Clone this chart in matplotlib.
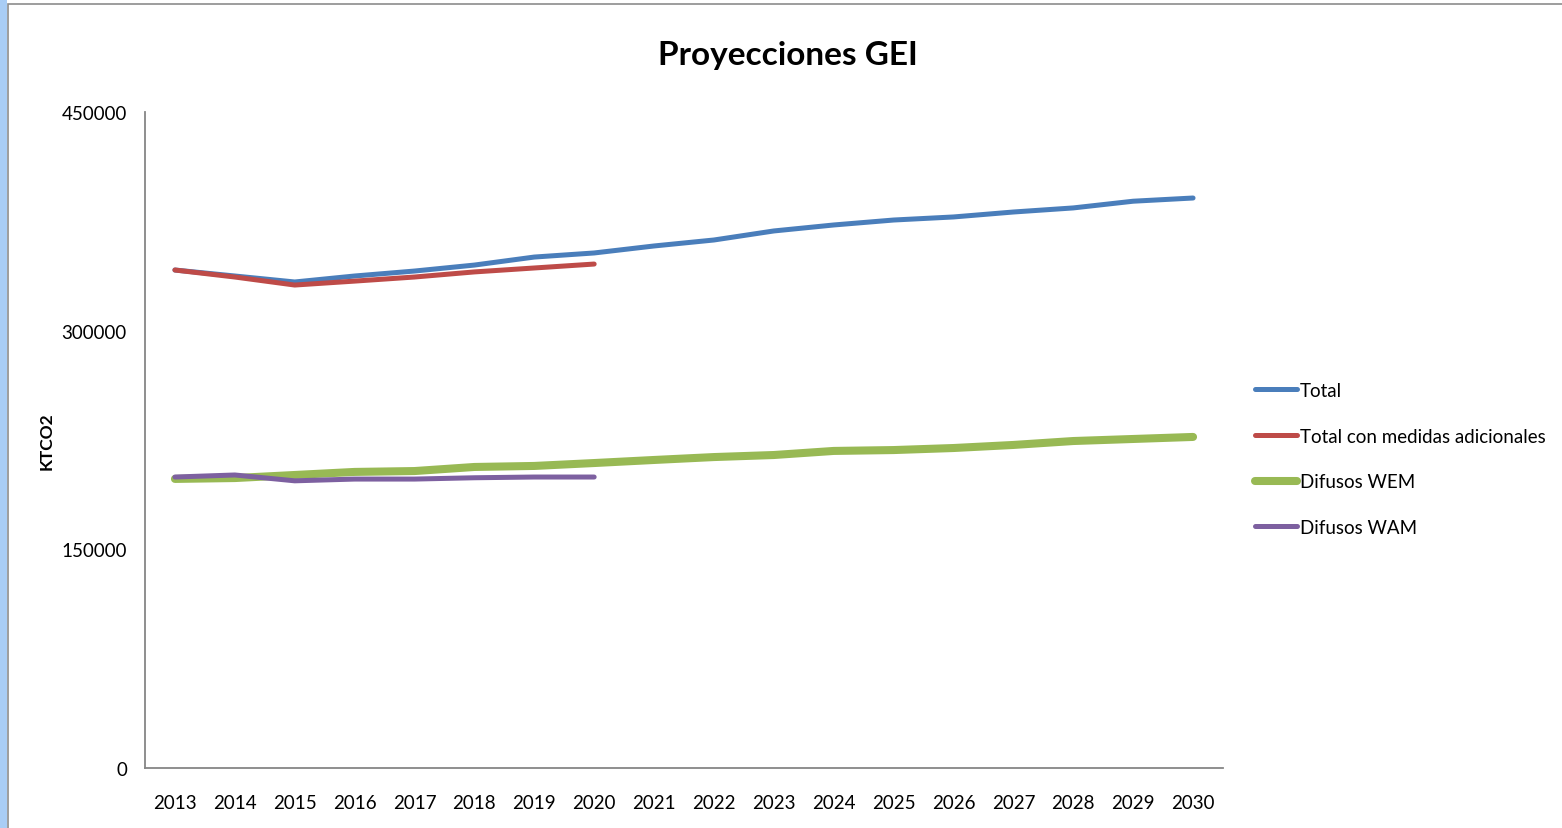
import matplotlib
matplotlib.use("Agg")
import matplotlib.pyplot as plt
from matplotlib.patches import Rectangle

plt.rcParams['font.family'] = ['Lato', 'DejaVu Sans']

years = list(range(2013, 2031))
total = [341600, 337500, 333400, 337500, 340900, 345000, 350500, 353300, 358100,
         362200, 368400, 372500, 375900, 378000, 381400, 384200, 388800, 391000]
total_wam = [341600, 336800, 331300, 334000, 336800, 340300, 343000, 345700]
difusos_wem = [198300, 198900, 201000, 203100, 203700, 206500, 207200, 209200, 211300,
               213300, 214700, 217500, 218100, 219500, 221600, 224300, 225700, 227100]
difusos_wam = [199600, 201000, 197000, 198200, 198200, 199100, 199600, 199600]

W, H = 1562, 829
fig = plt.figure(figsize=(W / 100, H / 100), dpi=100)

# marco de la hoja (tira azul + borde gris)
fig.patches.append(Rectangle((0, 0), 7 / W, 1, transform=fig.transFigure,
                             facecolor='#a9cdf5', edgecolor='none', zorder=0))
fig.patches.append(Rectangle((8 / W, -0.01), 1.0, 1 - 5 / H + 0.01, transform=fig.transFigure,
                             facecolor='none', edgecolor='#8c8c8c', linewidth=1.2, zorder=1))

ax = fig.add_axes([145 / W, 1 - 769 / H, (1223 - 145) / W, (769 - 113) / H])
x = list(range(len(years)))
ax.plot(x, total, color='#4a7ebb', lw=3.6, solid_capstyle='round', label='Total')
ax.plot(x[:len(total_wam)], total_wam, color='#be4b48', lw=3.6, solid_capstyle='round',
        label='Total con medidas adicionales')
ax.plot(x, difusos_wem, color='#98b954', lw=5.8, solid_capstyle='round', label='Difusos WEM')
ax.plot(x[:len(difusos_wam)], difusos_wam, color='#7d60a0', lw=3.6, solid_capstyle='round',
        label='Difusos WAM')

ax.set_xlim(-0.5, len(years) - 0.5)
ax.set_ylim(0, 450000)
ax.set_yticks([0, 150000, 300000, 450000])
ax.set_yticklabels(['0', '150000', '300000', '450000'])
ax.set_xticks(x)
ax.set_xticklabels([str(y) for y in years])
ax.tick_params(length=0, labelsize=13.5)
ax.tick_params(axis='x', pad=19)
ax.tick_params(axis='y', pad=13)
for s in ['top', 'right']:
    ax.spines[s].set_visible(False)
for s in ['left', 'bottom']:
    ax.spines[s].set_color('#868686')
    ax.spines[s].set_linewidth(1.3)

fig.text(47 / W, 1 - 441 / H, 'KTCO2', rotation=90, ha='center', va='center',
         fontsize=12.5, fontweight='bold')
fig.text(788 / W, 1 - 55 / H, 'Proyecciones GEI', ha='center', va='center',
         fontsize=24, fontweight='bold')

fig.legend(loc='center left', bbox_to_anchor=(1255 / W, 1 - 460 / H), frameon=False,
           fontsize=13.5, handlelength=2.25, handletextpad=0.15, labelspacing=1.53,
           borderpad=0, borderaxespad=0)

fig.savefig('out.png', dpi=100)
